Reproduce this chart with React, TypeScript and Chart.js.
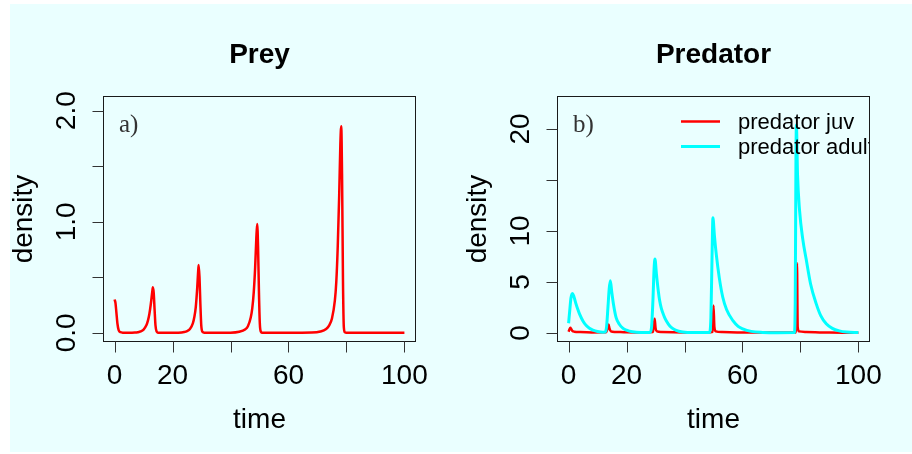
import React, { useEffect, useRef } from 'react';
import { Chart, registerables } from 'chart.js';

Chart.register(...registerables);

// ---------------- data ----------------
const preyTime = [
  0, 0.3, 0.6, 1, 1.4, 2, 3, 5,
  7, 8, 9, 10, 11, 11.5, 12, 12.5, 13, 13.2, 13.5, 13.8, 14.1, 14.5, 15, 16, 20,
  22, 24, 25, 26, 27, 27.5, 28, 28.5, 28.8, 29, 29.3, 29.6, 29.9, 30.3, 31, 35,
  40, 43, 45, 46, 47, 47.5, 48, 48.5, 48.9, 49.2, 49.5, 49.8, 50.1, 50.5, 51, 60,
  68, 71, 73, 74, 75, 76, 76.5, 77, 77.5, 77.9, 78.2, 78.5, 78.8, 79.1, 79.5, 80, 90, 100,
];
const preyDensity = [
  0.3, 0.27, 0.19, 0.08, 0.025, 0.006, 0.002, 0.001,
  0.003, 0.006, 0.013, 0.03, 0.07, 0.11, 0.17, 0.26, 0.37, 0.41, 0.36, 0.21, 0.07, 0.012, 0.002, 0.001, 0.001,
  0.002, 0.008, 0.016, 0.035, 0.085, 0.14, 0.23, 0.4, 0.54, 0.61, 0.5, 0.26, 0.07, 0.01, 0.002, 0.001,
  0.002, 0.01, 0.03, 0.06, 0.14, 0.22, 0.36, 0.59, 0.85, 0.98, 0.78, 0.38, 0.09, 0.01, 0.002, 0.001,
  0.003, 0.012, 0.035, 0.065, 0.13, 0.29, 0.46, 0.78, 1.24, 1.7, 1.86, 1.38, 0.48, 0.05, 0.005, 0.001, 0.001, 0.001,
];

const adultTime = [
  0, 0.4, 0.8, 1.3, 1.8, 2.5, 3.2, 3.8, 5, 6.1, 7.2, 8.4, 10, 11.8,
  12.6, 13.1, 13.6, 14.0, 14.4, 14.9, 15.5, 16.4, 17.5, 18.8, 20, 22, 25,
  28, 28.6, 29.1, 29.5, 29.8, 30.3, 31, 31.4, 32, 33, 33.7, 35, 36.5, 38, 41, 45,
  48.6, 49.1, 49.5, 49.8, 50.3, 51, 52, 53.2, 54.5, 56.7, 58.5, 60.1, 63, 67, 72,
  77.9, 78.2, 78.45, 78.6, 79, 79.7, 80.8, 82, 83.5, 85.4, 87, 88.9, 91, 93.4, 96, 100,
];
const adultDensity = [
  0.95, 2.2, 3.4, 3.87, 3.6, 2.9, 2.3, 1.85, 1.15, 0.72, 0.45, 0.28, 0.14, 0.07,
  0.08, 0.6, 2.6, 4.3, 5.12, 4.0, 2.8, 1.5, 0.85, 0.45, 0.27, 0.11, 0.04,
  0.05, 0.5, 3.2, 6.3, 7.25, 5.8, 4.0, 3.2, 2.4, 1.6, 1.2, 0.65, 0.33, 0.17, 0.05, 0.03,
  0.05, 1.5, 7.5, 11.3, 9.6, 7.6, 5.4, 3.5, 2.3, 1.2, 0.65, 0.4, 0.15, 0.05, 0.02,
  0.03, 3, 17, 20.4, 15.5, 12, 9.2, 7.2, 4.8, 2.9, 1.7, 0.9, 0.45, 0.2, 0.08, 0.03,
];

const juvTime = [
  0, 0.3, 0.6, 0.9, 1.3, 2, 4, 8, 12.9,
  13.4, 13.8, 14.1, 14.6, 16, 20, 26, 29.1,
  29.4, 29.7, 30.0, 30.5, 32, 40, 48, 49.7,
  50.0, 50.3, 50.8, 53, 60, 78.45,
  78.8, 79.05, 79.5, 82, 90, 100,
];
const juvDensity = [
  0.12, 0.35, 0.5, 0.38, 0.2, 0.12, 0.08, 0.05, 0.06,
  0.4, 0.82, 0.45, 0.15, 0.1, 0.06, 0.04, 0.08,
  0.7, 1.39, 0.5, 0.15, 0.09, 0.04, 0.03, 0.1,
  2.7, 0.6, 0.15, 0.08, 0.03, 0.05,
  6.85, 0.6, 0.15, 0.1, 0.04, 0.02,
];

const timeTicks = [0, 20, 40, 60, 80, 100];
const timeTickLabels = ['0', '20', '', '60', '', '100'];
const preyTicks = [0, 0.5, 1, 1.5, 2];
const preyTickLabels = ['0.0', '', '1.0', '', '2.0'];
const predTicks = [0, 5, 10, 15, 20];
const predTickLabels = ['0', '5', '10', '', '20'];
const legendLabels = ['predator juv', 'predator adult'];

// ---------------- styling ----------------
const SANS = '"Liberation Sans", Arial, Helvetica, sans-serif';
const SERIF = '"Liberation Serif", "Times New Roman", serif';
const RED = '#FF0000';
const CYAN = '#00FFFF';

type Series = { label: string; time: number[]; values: number[]; color: string; width: number; order: number };
type Spec = {
  left: number;
  width: number;
  title: string;
  tag: string;
  yMin: number;
  yMax: number;
  yTicks: number[];
  yLabels: string[];
  series: Series[];
  legend: boolean;
};

function makePlugin(spec: Spec) {
  return {
    id: 'rStyle',
    afterDraw(chart: any) {
      const ctx: CanvasRenderingContext2D = chart.ctx;
      const { left, right, top, bottom } = chart.chartArea;
      const xs = chart.scales.x;
      const ys = chart.scales.y;
      const L = Math.round(left) + 0.5;
      const R = Math.round(right) - 0.5;
      const T = Math.round(top) + 0.5;
      const B = Math.round(bottom) - 0.5;
      const cx = (left + right) / 2;
      const cy = (top + bottom) / 2;

      ctx.save();
      // legend (clipped to the plot region)
      if (spec.legend) {
        ctx.save();
        ctx.beginPath();
        ctx.rect(left, top, right - left, bottom - top);
        ctx.clip();
        const lx0 = left + 124;
        const lx1 = left + 163;
        const tx = left + 181;
        const rows = [
          { y: top + 25.5, base: top + 33.3, color: RED, w: 2.5 },
          { y: top + 50.5, base: top + 58.3, color: CYAN, w: 3 },
        ];
        rows.forEach((r, i) => {
          ctx.strokeStyle = r.color;
          ctx.lineWidth = r.w;
          ctx.beginPath();
          ctx.moveTo(lx0, r.y);
          ctx.lineTo(lx1, r.y);
          ctx.stroke();
          ctx.fillStyle = '#000';
          ctx.font = `22px ${SANS}`;
          ctx.textAlign = 'left';
          ctx.textBaseline = 'alphabetic';
          ctx.fillText(legendLabels[i], tx, r.base);
        });
        ctx.restore();
      }

      // box
      ctx.strokeStyle = '#1a1a1a';
      ctx.lineWidth = 1;
      ctx.strokeRect(L, T, R - L, B - T);

      // x axis ticks
      ctx.strokeStyle = '#333';
      ctx.fillStyle = '#000';
      ctx.font = `28px ${SANS}`;
      ctx.textAlign = 'center';
      ctx.textBaseline = 'alphabetic';
      timeTicks.forEach((v, i) => {
        const px = Math.round(xs.getPixelForValue(v)) + 0.5;
        ctx.beginPath();
        ctx.moveTo(px, B);
        ctx.lineTo(px, B + 11);
        ctx.stroke();
        if (timeTickLabels[i]) ctx.fillText(timeTickLabels[i], xs.getPixelForValue(v), bottom + 41.5);
      });

      // y axis ticks
      spec.yTicks.forEach((v, i) => {
        const py = Math.round(ys.getPixelForValue(v)) + 0.5;
        ctx.beginPath();
        ctx.moveTo(L, py);
        ctx.lineTo(L - 11, py);
        ctx.stroke();
        if (spec.yLabels[i]) {
          ctx.save();
          ctx.translate(left - 28, ys.getPixelForValue(v));
          ctx.rotate(-Math.PI / 2);
          ctx.textAlign = 'center';
          ctx.fillText(spec.yLabels[i], 0, 0);
          ctx.restore();
        }
      });

      // axis titles
      ctx.font = `28px ${SANS}`;
      ctx.textAlign = 'center';
      ctx.fillText('time', cx, bottom + 86);
      ctx.save();
      ctx.translate(left - 71, cy);
      ctx.rotate(-Math.PI / 2);
      ctx.fillText('density', 0, 0);
      ctx.restore();

      // main title
      ctx.font = `bold 28px ${SANS}`;
      ctx.fillText(spec.title, cx, 63);

      // panel tag
      ctx.font = `25px ${SERIF}`;
      ctx.fillStyle = '#333';
      ctx.textAlign = 'left';
      ctx.fillText(spec.tag, left + 16, top + 35.7);
      ctx.restore();
    },
  };
}

function Panel({ spec }: { spec: Spec }) {
  const ref = useRef<HTMLCanvasElement>(null);
  useEffect(() => {
    const chart = new Chart(ref.current as HTMLCanvasElement, {
      type: 'line',
      data: {
        datasets: spec.series.map((s) => ({
          label: s.label,
          data: s.time.map((t, i) => ({ x: t, y: s.values[i] })),
          borderColor: s.color,
          backgroundColor: s.color,
          borderWidth: s.width,
          pointRadius: 0,
          fill: false,
          order: s.order,
          cubicInterpolationMode: 'monotone' as const,
        })),
      },
      options: {
        animation: false,
        responsive: false,
        events: [],
        layout: { padding: { left: 103, right: spec.width - 416, top: 96, bottom: 454 - 342 } },
        plugins: {
          legend: { display: false },
          tooltip: { enabled: false },
          title: { display: false },
        },
        scales: {
          x: { type: 'linear', min: -4, max: 104, display: false },
          y: { type: 'linear', min: spec.yMin, max: spec.yMax, display: false },
        },
      },
      plugins: [makePlugin(spec)],
    });
    return () => chart.destroy();
  }, [spec]);
  return (
    <canvas
      ref={ref}
      width={spec.width}
      height={454}
      style={{ position: 'absolute', left: spec.left, top: 0, width: spec.width, height: 454 }}
    />
  );
}

const preySpec: Spec = {
  left: 0,
  width: 456,
  title: 'Prey',
  tag: 'a)',
  yMin: -0.082,
  yMax: 2.132,
  yTicks: preyTicks,
  yLabels: preyTickLabels,
  series: [{ label: 'prey', time: preyTime, values: preyDensity, color: RED, width: 2.5, order: 0 }],
  legend: false,
};

const predSpec: Spec = {
  left: 454,
  width: 458,
  title: 'Predator',
  tag: 'b)',
  yMin: -0.89,
  yMax: 23.24,
  yTicks: predTicks,
  yLabels: predTickLabels,
  series: [
    { label: legendLabels[0], time: juvTime, values: juvDensity, color: RED, width: 2.5, order: 1 },
    { label: legendLabels[1], time: adultTime, values: adultDensity, color: CYAN, width: 3, order: 0 },
  ],
  legend: true,
};

export default function App() {
  return (
    <div style={{ position: 'fixed', left: 0, top: 0, width: 912, height: 454, background: '#ffffff', overflow: 'hidden' }}>
      <div style={{ position: 'absolute', left: 10, top: 4, width: 902, height: 448, background: '#EAFFFF' }} />
      <Panel spec={preySpec} />
      <Panel spec={predSpec} />
    </div>
  );
}
